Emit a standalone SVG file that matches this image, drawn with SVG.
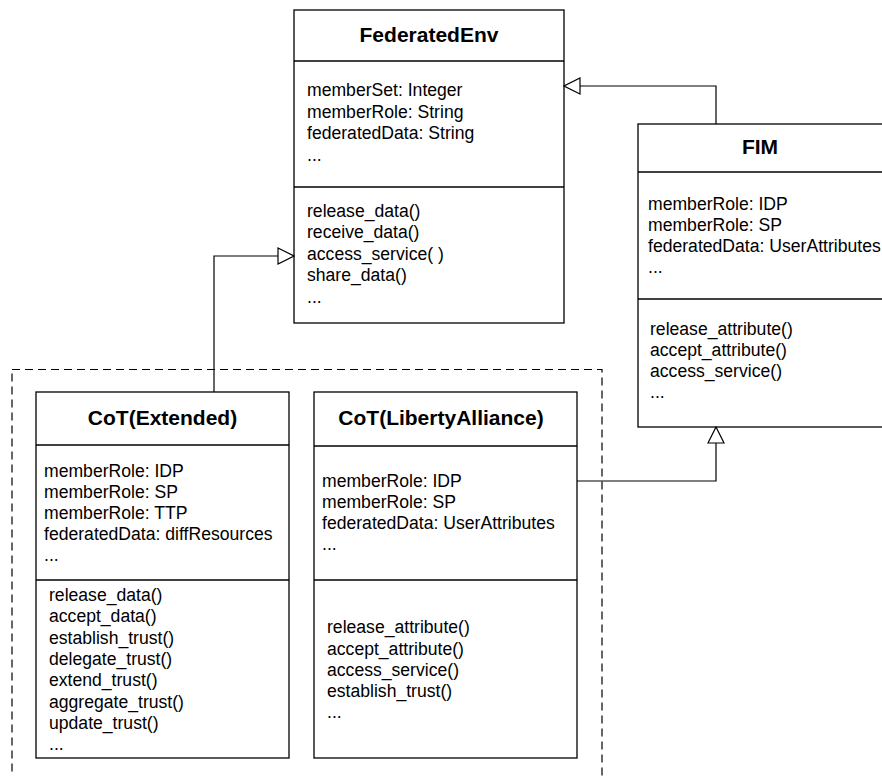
<svg xmlns="http://www.w3.org/2000/svg" width="882" height="776" viewBox="0 0 882 776">
<style>
.box{fill:#fff;stroke:#000;stroke-width:1.3}
.sep{stroke:#000;stroke-width:1.3;fill:none}
.t{font-family:"Liberation Sans",Arial,Helvetica,sans-serif;font-size:17.6px;fill:#000}
.h{font-family:"Liberation Sans",Arial,Helvetica,sans-serif;font-size:21px;font-weight:bold;fill:#000;text-anchor:middle}
.c{fill:none;stroke:#000;stroke-width:1.2}
.dash{fill:none;stroke:#000;stroke-width:1.2;stroke-dasharray:8 5}
</style>
<defs>
<marker id="tri" markerUnits="userSpaceOnUse" markerWidth="18" markerHeight="18" viewBox="-1 -1 18 18" refX="16" refY="8" orient="auto">
<path d="M0,0 L16,8 L0,16 Z" fill="#fff" stroke="#000" stroke-width="1.2"/>
</marker>
</defs>
<rect class="dash" x="12" y="369.5" width="590" height="430"/>
<g id="FederatedEnv">
<rect class="box" x="294" y="10" width="270" height="313"/>
<line class="sep" x1="294" y1="61" x2="564" y2="61"/>
<line class="sep" x1="294" y1="187" x2="564" y2="187"/>
<text class="h" x="429" y="41.5">FederatedEnv</text>
<text class="t" x="307" y="96">memberSet: Integer</text>
<text class="t" x="307" y="117.5">memberRole: String</text>
<text class="t" x="307" y="139">federatedData: String</text>
<text class="t" x="307" y="160.5">...</text>
<text class="t" x="307" y="216.5">release_data()</text>
<text class="t" x="307" y="238">receive_data()</text>
<text class="t" x="307" y="259.5">access_service( )</text>
<text class="t" x="307" y="281">share_data()</text>
<text class="t" x="307" y="302.5">...</text>
</g>
<g id="FIM">
<rect class="box" x="638" y="124" width="246" height="303"/>
<line class="sep" x1="638" y1="172" x2="884" y2="172"/>
<line class="sep" x1="638" y1="299" x2="884" y2="299"/>
<text class="h" x="760" y="154">FIM</text>
<text class="t" x="648" y="210">memberRole: IDP</text>
<text class="t" x="648" y="231">memberRole: SP</text>
<text class="t" x="648" y="252">federatedData: UserAttributes</text>
<text class="t" x="648" y="273">...</text>
<text class="t" x="650" y="335">release_attribute()</text>
<text class="t" x="650" y="356">accept_attribute()</text>
<text class="t" x="650" y="377">access_service()</text>
<text class="t" x="650" y="398">...</text>
</g>
<g id="CoTExtended">
<rect class="box" x="36" y="392" width="253" height="366"/>
<line class="sep" x1="36" y1="445" x2="289" y2="445"/>
<line class="sep" x1="36" y1="580" x2="289" y2="580"/>
<text class="h" x="162.5" y="424.5">CoT(Extended)</text>
<text class="t" x="44" y="476.5">memberRole: IDP</text>
<text class="t" x="44" y="497.5">memberRole: SP</text>
<text class="t" x="44" y="518.5">memberRole: TTP</text>
<text class="t" x="44" y="539.5">federatedData: diffResources</text>
<text class="t" x="44" y="560.5">...</text>
<text class="t" x="49" y="601">release_data()</text>
<text class="t" x="49" y="622.3">accept_data()</text>
<text class="t" x="49" y="643.6">establish_trust()</text>
<text class="t" x="49" y="664.9">delegate_trust()</text>
<text class="t" x="49" y="686.2">extend_trust()</text>
<text class="t" x="49" y="707.5">aggregate_trust()</text>
<text class="t" x="49" y="728.8">update_trust()</text>
<text class="t" x="49" y="749.5">...</text>
</g>
<g id="CoTLibertyAlliance">
<rect class="box" x="314" y="392" width="263" height="366"/>
<line class="sep" x1="314" y1="446" x2="577" y2="446"/>
<line class="sep" x1="314" y1="580" x2="577" y2="580"/>
<text class="h" x="441" y="424.5">CoT(LibertyAlliance)</text>
<text class="t" x="322" y="487">memberRole: IDP</text>
<text class="t" x="322" y="508">memberRole: SP</text>
<text class="t" x="322" y="529">federatedData: UserAttributes</text>
<text class="t" x="322" y="550">...</text>
<text class="t" x="327" y="633">release_attribute()</text>
<text class="t" x="327" y="654.5">accept_attribute()</text>
<text class="t" x="327" y="676">access_service()</text>
<text class="t" x="327" y="697">establish_trust()</text>
<text class="t" x="327" y="718">...</text>
</g>
<g id="connectors">
<path class="c" d="M214,392 L214,256 L294,256" marker-end="url(#tri)"/>
<path class="c" d="M716,124 L716,86 L564,86" marker-end="url(#tri)"/>
<path class="c" d="M577,481 L716,481 L716,427" marker-end="url(#tri)"/>
</g>
</svg>
